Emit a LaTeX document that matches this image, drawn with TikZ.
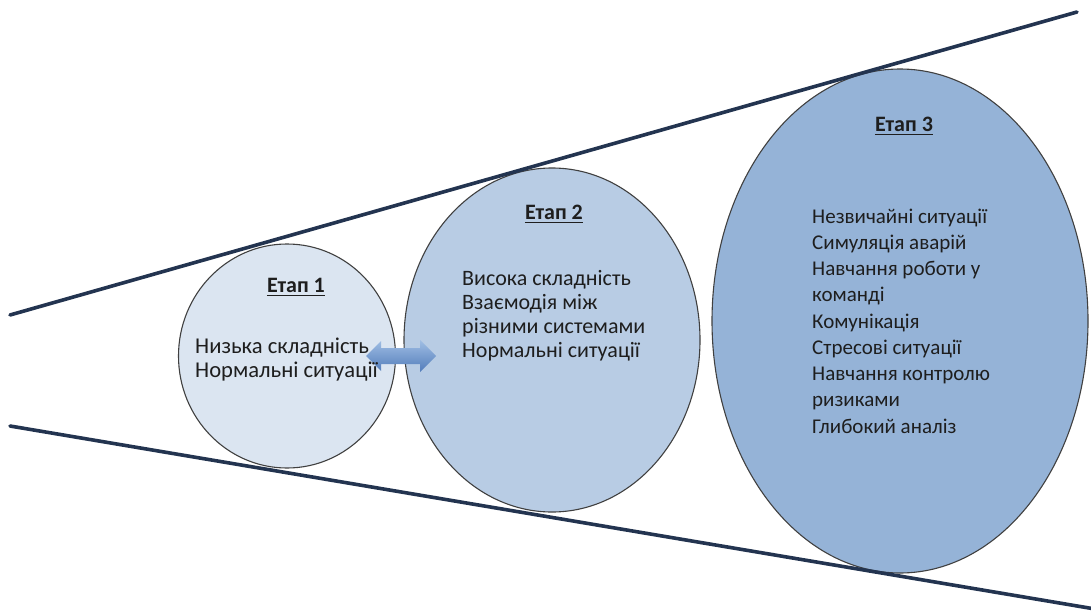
\documentclass[tikz,border=0pt]{standalone}
\usepackage{fontspec}
\setmainfont{Carlito}
\usetikzlibrary{shapes.geometric}
\definecolor{rayblue}{RGB}{35,52,80}
\definecolor{rimgray}{RGB}{64,64,64}
\definecolor{stageone}{HTML}{DBE5F1}
\definecolor{stagetwo}{HTML}{B8CCE4}
\definecolor{stagethree}{HTML}{95B3D7}
\definecolor{arrowtop}{RGB}{160,190,228}
\definecolor{arrowbot}{RGB}{82,124,186}
\definecolor{inktext}{RGB}{30,30,30}
\tikzset{
  stage/.style={ellipse, draw=rimgray, line width=1.1pt, inner sep=0pt},
  ray/.style={draw=rayblue, line width=3.6pt, line cap=round},
  item/.style={anchor=base west, inner sep=0pt, text=inktext,
    font=\fontsize{21}{26}\selectfont},
  heading/.style={anchor=base, inner sep=0pt, text=inktext,
    font=\fontsize{22}{26}\selectfont\bfseries},
  hline/.style={draw=inktext, line width=1.4pt}
}
\begin{document}
\begin{tikzpicture}[x=1pt,y=-1pt]
\useasboundingbox (0,0) rectangle (1091,610);

% three stages, growing to the right
\node[stage, fill=stageone, minimum width=217pt, minimum height=224pt] (e1) at (287,356) {};
\node[stage, fill=stagetwo, minimum width=296pt, minimum height=344pt] (e2) at (552,340) {};
\node[stage, fill=stagethree, minimum width=376pt, minimum height=504pt] (e3) at (900,321) {};

% the widening funnel
\coordinate (ta) at (10,315);
\coordinate (tb) at (1077,12);
\coordinate (ba) at (10,426);
\coordinate (bb) at (1095,609);
\draw[ray] (ta) -- (tb);
\draw[ray] (ba) -- (bb);

% block double arrow between stage 1 and stage 2
\shade[top color=arrowtop, bottom color=arrowbot]
  (366,356) -- (381,341) -- (381,348) -- (420,348) -- (420,340)
  -- (436,356) -- (420,372) -- (420,364) -- (381,364) -- (381,371) -- cycle;

% headings
\node[heading] (h1) at (296,292) {Етап 1};
\node[heading] (h2) at (554,219) {Етап 2};
\node[heading] (h3) at (904,131) {Етап 3};
\foreach \h in {h1,h2,h3}
  \draw[hline] ([yshift=-3.5pt]\h.base west) -- ([yshift=-3.5pt]\h.base east);

% stage contents
\foreach \t [count=\i from 0] in {Низька складність, Нормальні ситуації}
  \node[item, font=\fontsize{22.6}{26}\selectfont] (a\i) at (195,353+24*\i) {\t};
\foreach \t [count=\i from 0] in {Висока складність, Взаємодія між,
    різними системами, Нормальні ситуації}
  \node[item, font=\fontsize{22}{26}\selectfont] (b\i) at (462,285+24*\i) {\t};
\foreach \t [count=\i from 0] in {Незвичайні ситуації, Симуляція аварій,
    Навчання роботи у, команді, Комунікація, Стресові ситуації,
    Навчання контролю, ризиками, Глибокий аналіз}
  \node[item] (c\i) at (812,223+26.25*\i) {\t};
\end{tikzpicture}
\end{document}
